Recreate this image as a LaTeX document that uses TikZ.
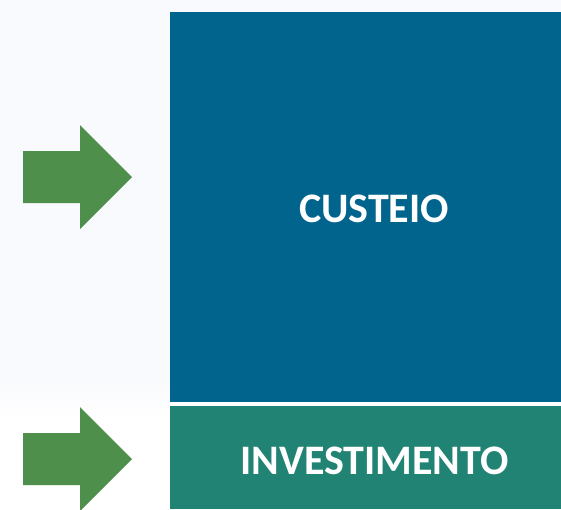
\documentclass[tikz,border=0pt]{standalone}
\usepackage{fontspec}
\setmainfont{Carlito}
\definecolor{bgl}{HTML}{F9FAFD}
\definecolor{boxblue}{HTML}{00648C}
\definecolor{boxteal}{HTML}{218373}
\definecolor{arrgreen}{HTML}{4E8F4B}
\begin{document}
\begin{tikzpicture}[x=1pt,y=-1pt,
  lbl/.style={text=white,font=\bfseries\fontsize{42}{42}\selectfont,anchor=base,inner sep=0pt},
  garrow/.style={fill=arrgreen,draw=none}]
\useasboundingbox (0,0) rectangle (561,509);
\fill[white] (0,0) rectangle (561,509);
\fill[bgl] (0,0) rectangle (561,380);
\shade[top color=bgl,bottom color=white] (0,380) rectangle (170,420);
\node[fill=boxblue,draw=none,minimum width=391pt,minimum height=390pt,inner sep=0pt,anchor=north west] (cust) at (170,12) {};
\node[fill=boxteal,draw=none,minimum width=391pt,minimum height=103pt,inner sep=0pt,anchor=north west] (inv) at (170,406) {};
\node[lbl] (tc) at (374,222.5) {CUSTEIO};
\node[lbl] (ti) at (374.5,474.5) {INVESTIMENTO};
\fill[garrow] (23,151) -- (80,151) -- (80,125) -- (132,177) -- (80,229) -- (80,203) -- (23,203) -- cycle;
\fill[garrow] (23,433) -- (80,433) -- (80,407) -- (132,459) -- (80,511) -- (80,485) -- (23,485) -- cycle;
\end{tikzpicture}
\end{document}
